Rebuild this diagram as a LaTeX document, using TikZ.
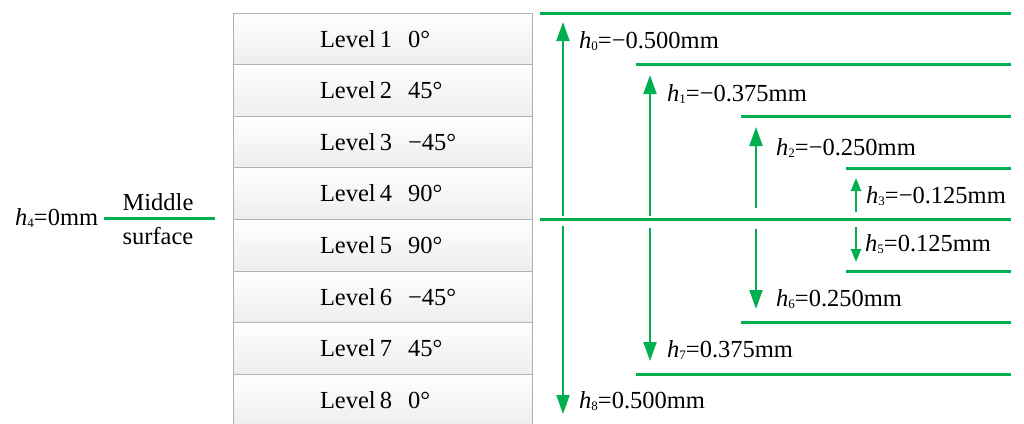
\documentclass[tikz,border=0pt]{standalone}
\usepackage{fontspec}
\setmainfont{Liberation Serif}
\usetikzlibrary{arrows.meta}
\definecolor{lgreen}{HTML}{00B050}
\newcommand{\hs}[1]{\textit{h}\raisebox{-0.15ex}{\fontsize{13}{14}\selectfont #1}}
\newcommand{\lvtext}[2]{\hspace*{87pt}Level\hspace{4pt}#1\hspace{16pt}#2}
\begin{document}
\begin{tikzpicture}[x=1pt,y=-1pt,
  layer/.style={draw=gray!60, line width=1pt, top color=white, bottom color=gray!14,
    text width=299pt, align=left, minimum height=51.6pt, inner sep=0pt, anchor=north west,
    font=\fontsize{24.5}{28}\selectfont},
  gline/.style={draw=lgreen, line width=3pt},
  garrow/.style={draw=lgreen, line width=2pt, -{Triangle[width=13pt,length=19pt]}},
  gsmall/.style={draw=lgreen, line width=2pt, -{Triangle[width=10pt,length=13pt]}},
  lab/.style={anchor=west, inner sep=0pt, font=\fontsize{24.5}{28}\selectfont}]
\useasboundingbox (0,0) rectangle (1024,423);
\begin{scope}
\clip (0,0) rectangle (1024,423);
\node[layer] (L1) at (232.5,12.5) {\lvtext{1}{0°}};
\node[layer] (L2) at (232.5,64.1) {\lvtext{2}{45°}};
\node[layer] (L3) at (232.5,115.7) {\lvtext{3}{−45°}};
\node[layer] (L4) at (232.5,167.3) {\lvtext{4}{90°}};
\node[layer] (L5) at (232.5,218.9) {\lvtext{5}{90°}};
\node[layer] (L6) at (232.5,270.5) {\lvtext{6}{−45°}};
\node[layer] (L7) at (232.5,322.1) {\lvtext{7}{45°}};
\node[layer] (L8) at (232.5,373.7) {\lvtext{8}{0°}};
\end{scope}
% green surface lines
\coordinate (s0a) at (540,13);  \coordinate (s0b) at (1011,13);
\coordinate (s1a) at (636,64);  \coordinate (s1b) at (1011,64);
\coordinate (s2a) at (741,116); \coordinate (s2b) at (1011,116);
\coordinate (s3a) at (846,168); \coordinate (s3b) at (1011,168);
\coordinate (s4a) at (540,219); \coordinate (s4b) at (1011,219);
\coordinate (s5a) at (846,271); \coordinate (s5b) at (1011,271);
\coordinate (s6a) at (741,322); \coordinate (s6b) at (1011,322);
\coordinate (s7a) at (636,374); \coordinate (s7b) at (1011,374);
\foreach \i in {0,...,7} {\draw[gline] (s\i a) -- (s\i b);}
% arrows
\coordinate (a0s) at (563,216); \coordinate (a0e) at (563,22);
\coordinate (a1s) at (650,216); \coordinate (a1e) at (650,75);
\coordinate (a2s) at (756,208); \coordinate (a2e) at (756,127);
\coordinate (a3s) at (856,212); \coordinate (a3e) at (856,178);
\coordinate (a5s) at (856,227); \coordinate (a5e) at (856,262);
\coordinate (a6s) at (756,229); \coordinate (a6e) at (756,309);
\coordinate (a7s) at (650,228); \coordinate (a7e) at (650,361);
\coordinate (a8s) at (563,226); \coordinate (a8e) at (563,414);
\draw[garrow] (a0s) -- (a0e);
\draw[garrow] (a1s) -- (a1e);
\draw[garrow] (a2s) -- (a2e);
\draw[gsmall] (a3s) -- (a3e);
\draw[gsmall] (a5s) -- (a5e);
\draw[garrow] (a6s) -- (a6e);
\draw[garrow] (a7s) -- (a7e);
\draw[garrow] (a8s) -- (a8e);
% labels
\node[lab] (h0) at (579,41) {\hs{0}=−0.500mm};
\node[lab] (h1) at (667,94) {\hs{1}=−0.375mm};
\node[lab] (h2) at (776,148) {\hs{2}=−0.250mm};
\node[lab] (h3) at (866,196) {\hs{3}=−0.125mm};
\node[lab] (h5) at (865,244) {\hs{5}=0.125mm};
\node[lab] (h6) at (776,299) {\hs{6}=0.250mm};
\node[lab] (h7) at (667,350) {\hs{7}=0.375mm};
\node[lab] (h8) at (579,401) {\hs{8}=0.500mm};
% middle surface
\node[lab] (h4) at (15,218) {\hs{4}=0mm};
\coordinate (ms0) at (104,218); \coordinate (ms1) at (215,218);
\draw[gline] (ms0) -- (ms1);
\node[font=\fontsize{24.5}{28}\selectfont, inner sep=0pt] (mid) at (158,202) {Middle};
\node[font=\fontsize{24.5}{28}\selectfont, inner sep=0pt] (surf) at (158,236) {surface};
\end{tikzpicture}
\end{document}
